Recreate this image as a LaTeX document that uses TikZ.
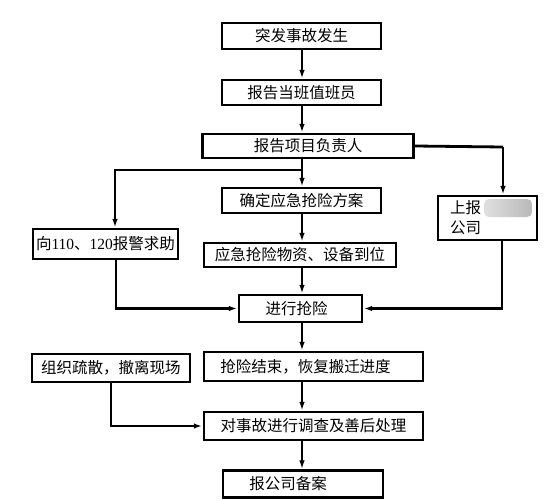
\documentclass[tikz,border=0pt]{standalone}
\usepackage{fontspec}
\setmainfont{Liberation Serif}
\newfontfamily\cjk{Noto Sans CJK SC}
\usetikzlibrary{arrows.meta}
\begin{document}
\begin{tikzpicture}[x=1pt,y=-1pt,
  box/.style={draw, line width=2.6pt, inner sep=0pt, font=\fontsize{15.5}{20}\selectfont\cjk},
  thinln/.style={line width=1.1pt},
  thickln/.style={line width=2.8pt},
  arr/.style={-{Latex[length=8pt,width=5.5pt]}, shorten >=0.8pt}]
\useasboundingbox (0,0) rectangle (558,501);
\node[box, minimum width=159pt, minimum height=26pt] (b1) at (301.5,36) {突发事故发生};
\node[box, minimum width=159pt, minimum height=25pt] (b2) at (301.5,92.5) {报告当班值班员};
\node[box, minimum width=211pt, minimum height=24pt] (b3) at (308,146) {报告项目负责人};
\node[box, minimum width=159pt, minimum height=25pt] (b4) at (301.5,200.5) {确定应急抢险方案};
\node[box, minimum width=192pt, minimum height=24pt] (b5) at (300,255) {应急抢险物资、设备到位};
\node[box, minimum width=145pt, minimum height=30pt] (b6) at (105.5,244) {向{\rmfamily 110}、{\rmfamily 120}报警求助};
\node[box, minimum width=123pt, minimum height=27pt] (b7) at (300.5,308.5) {\kern-8pt 进行抢险};
\node[box, minimum width=99pt, minimum height=44pt, text width=75pt, align=left] (b8) at (487.5,218) {上报\\公司};
\shade[left color=gray!25, right color=gray!55, rounded corners=5pt] (484,199) rectangle (532,217);
\node[box, minimum width=219pt, minimum height=29pt] (b9) at (313.5,366.5) {\kern-16pt 抢险结束，恢复搬迁进度};
\node[box, minimum width=158pt, minimum height=28pt] (b10) at (111,368) {组织疏散，撤离现场};
\node[box, minimum width=219pt, minimum height=28pt] (b11) at (313.5,426) {对事故进行调查及善后处理};
\node[box, minimum width=160pt, minimum height=27pt] (b12) at (303,484) {\kern-30pt 报公司备案};
\coordinate (sp) at (302,0);
\draw[thinln,arr] (b1.south -| sp) -- (b2.north -| sp);
\draw[thinln,arr] (b2.south -| sp) -- (b3.north -| sp);
\draw[thinln,arr] (b3.south -| sp) -- (b4.north -| sp);
\draw[thinln,arr] (b4.south -| sp) -- (b5.north -| sp);
\draw[thinln,arr] (b5.south -| sp) -- (b7.north -| sp);
\draw[thinln,arr] (b7.south -| sp) -- (b9.north -| sp);
\draw[thinln,arr] (b9.south -| sp) -- (b11.north -| sp);
\draw[thinln,arr] (b11.south -| sp) -- (b12.north -| sp);
\coordinate (j1) at (302,170);
\coordinate (j2) at (115,170);
\draw[thinln,arr] (j1) -- (j2) -- (j2 |- b6.north);
\coordinate (j3) at (503,147);
\draw[thickln] (b3.east) -- (j3);
\draw[thinln,arr] (j3) -- (j3 |- b8.north);
\coordinate (j4) at (116,308.5);
\draw[thickln,arr] (j4 |- b6.south) -- (j4) -- (b7.west);
\coordinate (j5) at (502,308.5);
\draw[thickln,arr] (j5 |- b8.south) -- (j5) -- (b7.east);
\coordinate (j6) at (111,426);
\draw[thickln,arr] (j6 |- b10.south) -- (j6) -- (b11.west);
\end{tikzpicture}
\end{document}
